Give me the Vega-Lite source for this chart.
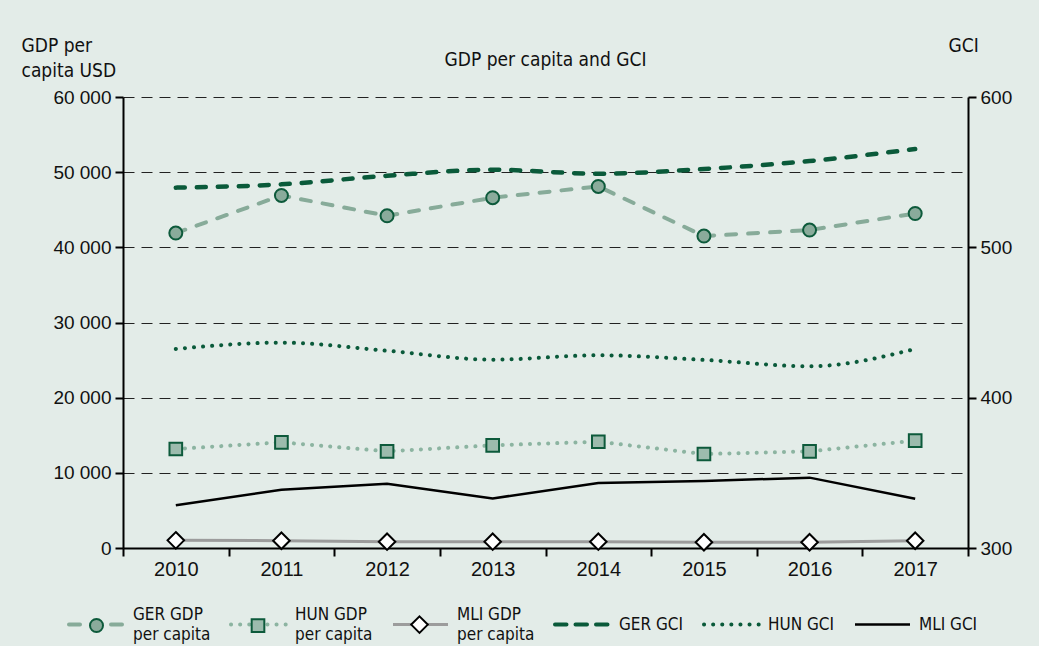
{
  "$schema": "https://vega.github.io/schema/vega-lite/v6.json",
  "width": 845,
  "height": 451,
  "autosize": {"type": "none"},
  "padding": {"left": 123, "top": 97, "right": 71, "bottom": 98},
  "background": "#e3ece8",
  "config": {"view": {"stroke": null}, "font": "Liberation Sans"},
  "title": {
    "text": "GDP per capita and GCI",
    "frame": "group",
    "anchor": "middle",
    "font": "DejaVu Sans Condensed, Liberation Sans",
    "fontSize": 19,
    "fontWeight": "normal",
    "color": "#111111",
    "baseline": "alphabetic",
    "offset": 0,
    "dy": 49
  },
  "data": {
    "values": [
      {"year": "2010", "series": "GER GDP per capita", "value": 41900},
      {"year": "2011", "series": "GER GDP per capita", "value": 46900},
      {"year": "2012", "series": "GER GDP per capita", "value": 44200},
      {"year": "2013", "series": "GER GDP per capita", "value": 46600},
      {"year": "2014", "series": "GER GDP per capita", "value": 48100},
      {"year": "2015", "series": "GER GDP per capita", "value": 41500},
      {"year": "2016", "series": "GER GDP per capita", "value": 42300},
      {"year": "2017", "series": "GER GDP per capita", "value": 44500},
      {"year": "2010", "series": "HUN GDP per capita", "value": 13170},
      {"year": "2011", "series": "HUN GDP per capita", "value": 14060},
      {"year": "2012", "series": "HUN GDP per capita", "value": 12860},
      {"year": "2013", "series": "HUN GDP per capita", "value": 13660},
      {"year": "2014", "series": "HUN GDP per capita", "value": 14140},
      {"year": "2015", "series": "HUN GDP per capita", "value": 12500},
      {"year": "2016", "series": "HUN GDP per capita", "value": 12860},
      {"year": "2017", "series": "HUN GDP per capita", "value": 14280},
      {"year": "2010", "series": "MLI GDP per capita", "value": 1020},
      {"year": "2011", "series": "MLI GDP per capita", "value": 970},
      {"year": "2012", "series": "MLI GDP per capita", "value": 840},
      {"year": "2013", "series": "MLI GDP per capita", "value": 840},
      {"year": "2014", "series": "MLI GDP per capita", "value": 840},
      {"year": "2015", "series": "MLI GDP per capita", "value": 760},
      {"year": "2016", "series": "MLI GDP per capita", "value": 760},
      {"year": "2017", "series": "MLI GDP per capita", "value": 970},
      {"year": "2010", "series": "GER GCI", "value": 539.7},
      {"year": "2011", "series": "GER GCI", "value": 541.9},
      {"year": "2012", "series": "GER GCI", "value": 547.6},
      {"year": "2013", "series": "GER GCI", "value": 551.6},
      {"year": "2014", "series": "GER GCI", "value": 549.0},
      {"year": "2015", "series": "GER GCI", "value": 552.1},
      {"year": "2016", "series": "GER GCI", "value": 557.4},
      {"year": "2017", "series": "GER GCI", "value": 565.4},
      {"year": "2010", "series": "HUN GCI", "value": 432.4},
      {"year": "2011", "series": "HUN GCI", "value": 436.6},
      {"year": "2012", "series": "HUN GCI", "value": 431.2},
      {"year": "2013", "series": "HUN GCI", "value": 425.3},
      {"year": "2014", "series": "HUN GCI", "value": 428.2},
      {"year": "2015", "series": "HUN GCI", "value": 425.1},
      {"year": "2016", "series": "HUN GCI", "value": 420.9},
      {"year": "2017", "series": "HUN GCI", "value": 432.4},
      {"year": "2010", "series": "MLI GCI", "value": 328.4},
      {"year": "2011", "series": "MLI GCI", "value": 338.8},
      {"year": "2012", "series": "MLI GCI", "value": 342.8},
      {"year": "2013", "series": "MLI GCI", "value": 333.0},
      {"year": "2014", "series": "MLI GCI", "value": 343.2},
      {"year": "2015", "series": "MLI GCI", "value": 344.6},
      {"year": "2016", "series": "MLI GCI", "value": 346.8},
      {"year": "2017", "series": "MLI GCI", "value": 332.8}
    ]
  },
  "encoding": {
    "x": {
      "field": "year",
      "type": "ordinal",
      "scale": {"type": "band", "paddingInner": 0, "paddingOuter": 0},
      "axis": {
        "title": null,
        "labelAngle": 0,
        "labelFont": "Liberation Sans",
        "labelFontSize": 20,
        "labelColor": "#111111",
        "labelPadding": 3,
        "tickBand": "extent",
        "tickSize": 8,
        "tickWidth": 2,
        "tickColor": "#000000",
        "domainColor": "#000000",
        "domainWidth": 2,
        "grid": false
      }
    }
  },
  "layer": [
    {
      "encoding": {
        "y": {
          "field": "value",
          "type": "quantitative",
          "scale": {"domain": [0, 60000], "nice": false, "zero": true},
          "axis": {
            "orient": "left",
            "values": [0, 10000, 20000, 30000, 40000, 50000, 60000],
            "labelExpr": "replace(format(datum.value, ',d'), ',', ' ')",
            "labelFont": "Liberation Sans",
            "labelFontSize": 19,
            "labelColor": "#111111",
            "labelPadding": 4,
            "tickSize": 8,
            "tickWidth": 2,
            "tickColor": "#000000",
            "domainColor": "#000000",
            "domainWidth": 2,
            "grid": true,
            "gridDash": [11, 7],
            "gridColor": "#222222",
            "gridWidth": 1,
            "title": ["GDP per", "capita USD"],
            "titleAngle": 0,
            "titleAlign": "left",
            "titleBaseline": "top",
            "titleX": -102,
            "titleY": -61,
            "titleFont": "DejaVu Sans Condensed, Liberation Sans",
            "titleFontSize": 19,
            "titleFontWeight": "normal",
            "titleColor": "#111111",
            "titleLineHeight": 25
          }
        }
      },
      "layer": [
        {
          "transform": [{"filter": "datum.series === 'GER GDP per capita'"}],
          "mark": {"type": "line", "strokeWidth": 4, "strokeDash": [10, 12], "strokeCap": "round"},
          "encoding": {
            "color": {
              "field": "series", "type": "nominal",
              "scale": {
                "domain": ["GER GDP per capita", "HUN GDP per capita", "MLI GDP per capita", "GER GCI", "HUN GCI", "MLI GCI"],
                "range": ["#87ab99", "#8cb4a1", "#9c9c9c", "#0a5a3a", "#0a5a3a", "#000000"]
              },
              "legend": {
                "orient": "none", "legendX": -56, "legendY": 498, "direction": "horizontal", "title": null, "padding": 0,
                "symbolType": "M-1,0H1M0,-1M0,1", "symbolSize": 3025, "symbolStrokeWidth": 4,
                "labelFont": "DejaVu Sans Condensed, Liberation Sans", "labelFontSize": 17, "labelColor": "#111111", "labelOffset": 7, "columnPadding": 12,
                "labelExpr": "indexof(datum.label, ' per capita') > 0 ? [replace(datum.label, ' per capita', ''), 'per capita'] : datum.label",
                "encode": {
                  "labels": {"update": {"lineHeight": {"value": 20}, "dy": {"signal": "indexof(datum.label, ' per capita') > 0 ? -10 : 0"}}},
                  "symbols": {
                    "update": {
                      "strokeCap": {"value": "round"},
                      "shape": {"signal": "datum.value === 'MLI GCI' ? 'M-1,-0.045H1V0.045H-1ZM0,-1M0,1' : datum.value === 'MLI GDP per capita' ? 'M-1,-0.055H1V0.055H-1ZM0,-1M0,1' : 'M-1,0H1M0,-1M0,1'"},
                      "fill": {"signal": "datum.value === 'MLI GCI' ? '#000000' : datum.value === 'MLI GDP per capita' ? '#9c9c9c' : 'transparent'"},
                      "fillOpacity": {"value": 1},
                      "strokeOpacity": {"signal": "(datum.value === 'MLI GCI' || datum.value === 'MLI GDP per capita') ? 0.001 : 1"},
                      "strokeDash": {"signal": "datum.value === 'GER GDP per capita' ? [11, 31] : datum.value === 'GER GCI' ? [11.5, 9] : (datum.value === 'HUN GDP per capita' || datum.value === 'HUN GCI') ? [0.1, 9] : [1, 0]"}
                    }
                  }
                }
              }
            }
          }
        },
        {
          "transform": [{"filter": "datum.series === 'HUN GDP per capita'"}],
          "mark": {"type": "line", "strokeWidth": 4, "strokeDash": [0.1, 9], "strokeCap": "round"},
          "encoding": {"color": {"field": "series", "type": "nominal"}}
        },
        {
          "transform": [{"filter": "datum.series === 'MLI GDP per capita'"}],
          "mark": {"type": "line", "strokeWidth": 3},
          "encoding": {"color": {"field": "series", "type": "nominal"}}
        },
        {
          "transform": [{"filter": "indexof(datum.series, 'GDP') >= 0"}],
          "mark": {"type": "point", "size": 3249, "strokeWidth": 2, "opacity": 1},
          "encoding": {
            "shape": {
              "field": "series", "type": "nominal",
              "scale": {
                "domain": ["GER GDP per capita", "HUN GDP per capita", "MLI GDP per capita"],
                "range": ["M0.228,0A0.228,0.228,0,1,1,-0.228,0A0.228,0.228,0,1,1,0.228,0Z", "M-0.222,-0.222H0.222V0.222H-0.222Z", "M0,-0.29L0.29,0L0,0.29L-0.29,0Z"]
              },
              "legend": {
                "orient": "none", "legendX": -56, "legendY": 498, "direction": "horizontal", "title": null, "padding": 0,
                "symbolSize": 3249, "symbolStrokeWidth": 2, "symbolOpacity": 1,
                "labelFont": "DejaVu Sans Condensed, Liberation Sans", "labelFontSize": 17, "labelOffset": 7, "columnPadding": 95.5,
                "labelExpr": "''"
              }
            },
            "fill": {
              "field": "series", "type": "nominal",
              "scale": {
                "domain": ["GER GDP per capita", "HUN GDP per capita", "MLI GDP per capita"],
                "range": ["#8aab9b", "#9cbbad", "#ffffff"]
              }
            },
            "stroke": {
              "field": "series", "type": "nominal",
              "scale": {
                "domain": ["GER GDP per capita", "HUN GDP per capita", "MLI GDP per capita"],
                "range": ["#0d5a3b", "#0d5a3b", "#000000"]
              }
            }
          }
        }
      ]
    },
    {
      "encoding": {
        "y": {
          "field": "value",
          "type": "quantitative",
          "scale": {"domain": [300, 600], "nice": false, "zero": false},
          "axis": {
            "orient": "right",
            "values": [300, 400, 500, 600],
            "labelFont": "Liberation Sans",
            "labelFontSize": 19,
            "labelColor": "#111111",
            "labelPadding": 4,
            "tickSize": 8,
            "tickWidth": 2,
            "tickColor": "#000000",
            "domainColor": "#000000",
            "domainWidth": 2,
            "grid": false,
            "title": "GCI",
            "titleAngle": 0,
            "titleAlign": "left",
            "titleBaseline": "top",
            "titleX": -20,
            "titleY": -61,
            "titleFont": "DejaVu Sans Condensed, Liberation Sans",
            "titleFontSize": 19,
            "titleFontWeight": "normal",
            "titleColor": "#111111"
          }
        }
      },
      "layer": [
        {
          "transform": [{"filter": "datum.series === 'GER GCI'"}],
          "mark": {"type": "line", "strokeWidth": 4.5, "strokeDash": [9, 12], "strokeCap": "round", "interpolate": "monotone"},
          "encoding": {"color": {"field": "series", "type": "nominal"}}
        },
        {
          "transform": [{"filter": "datum.series === 'HUN GCI'"}],
          "mark": {"type": "line", "strokeWidth": 4, "strokeDash": [0.1, 9], "strokeCap": "round", "interpolate": "monotone"},
          "encoding": {"color": {"field": "series", "type": "nominal"}}
        },
        {
          "transform": [{"filter": "datum.series === 'MLI GCI'"}],
          "mark": {"type": "line", "strokeWidth": 2.5},
          "encoding": {"color": {"field": "series", "type": "nominal"}}
        }
      ]
    }
  ],
  "resolve": {"scale": {"y": "independent"}}
}
